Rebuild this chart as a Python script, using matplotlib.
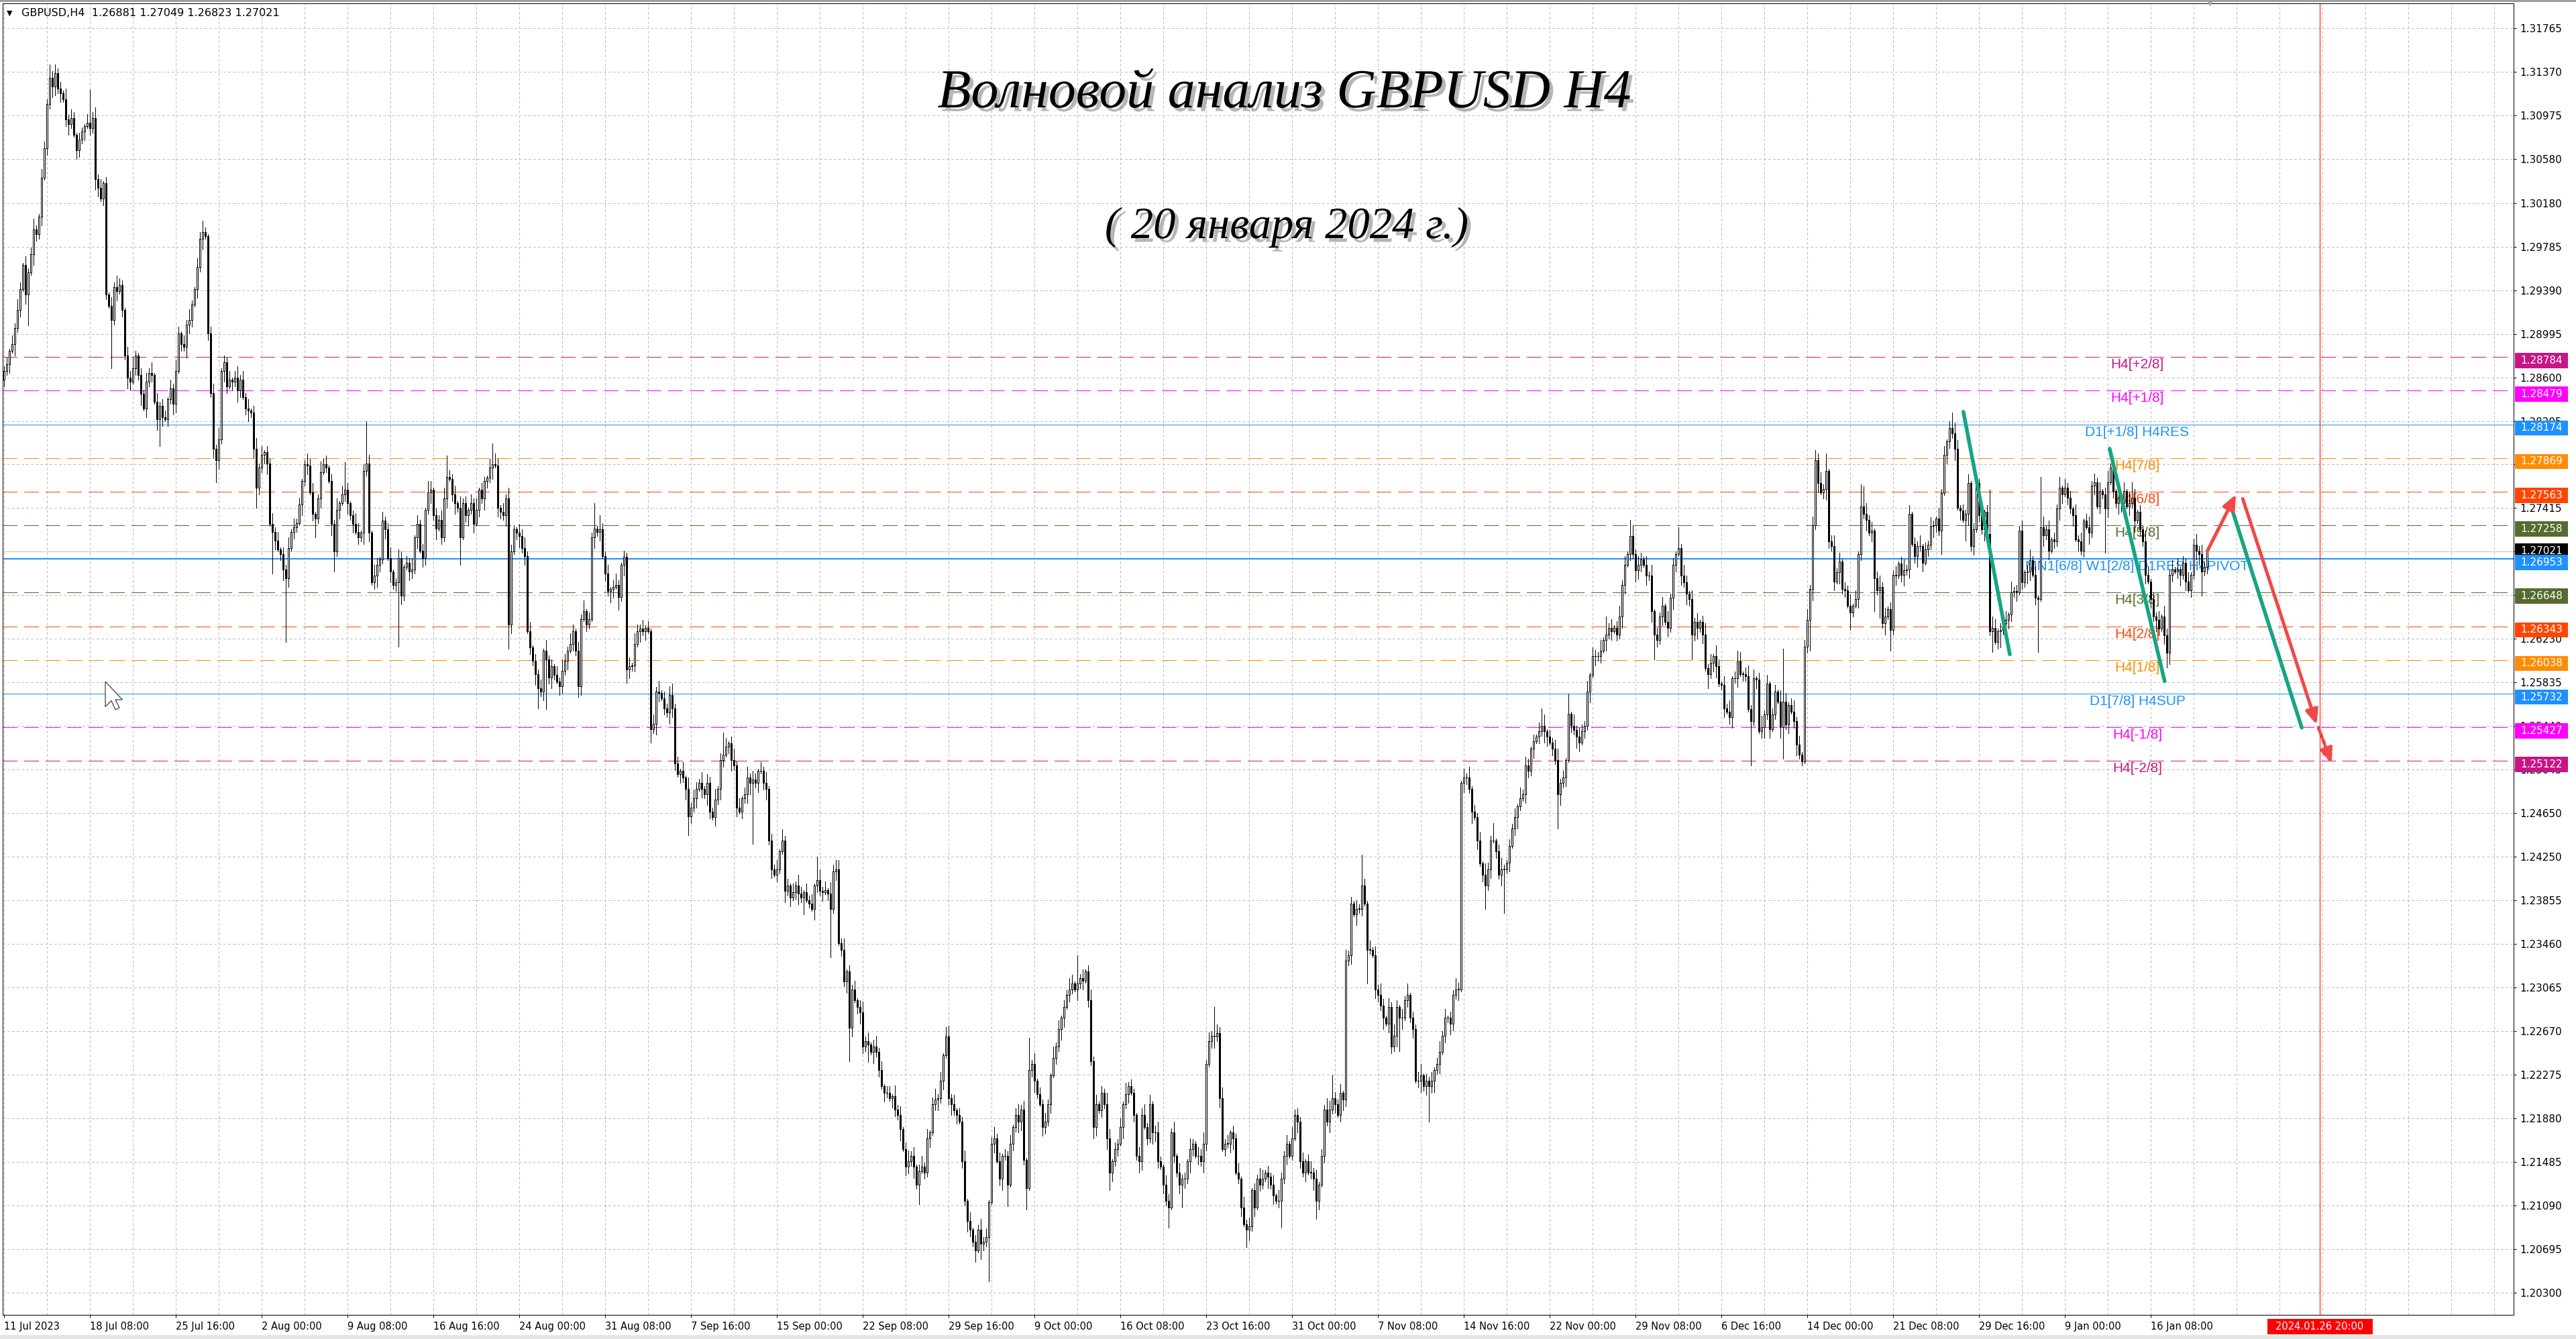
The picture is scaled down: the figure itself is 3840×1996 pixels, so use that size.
import matplotlib
matplotlib.use("Agg")
import matplotlib.pyplot as plt
import matplotlib.patheffects as pe
from matplotlib.patches import Rectangle, Polygon
from matplotlib.transforms import blended_transform_factory

plt.rcParams["lines.scale_dashes"] = False
plt.rcParams["font.family"] = ["DejaVu Sans"]

# canvas and plot box, in pixels of the 3840x1996 screenshot
W, H = 3840, 1996
AX_L, AX_R, AX_T, AX_B = 4, 3747, 5, 1960
Y_LO, Y_HI = 1.20097, 1.31993
X_LO, X_HI = -0.5, 935.25
PX = 0.72  # one pixel, in points

SYMBOL_LINE = "GBPUSD,H4  1.26881 1.27049 1.26823 1.27021"
TITLE = "Волновой анализ GBPUSD H4"
SUBTITLE = "( 20 января 2024 г.)"

# H4 closes in pips above 1.20000, bar 0 = 11 Jul 2023 00:00
FIRST_OPEN = 858
CLOSES = [
    866, 872, 884, 890, 905, 921, 940, 962, 935, 955,
    972, 994, 990, 1006, 1041, 1068, 1108, 1132, 1124, 1136,
    1122, 1118, 1112, 1094, 1090, 1095, 1080, 1066, 1076, 1083,
    1088, 1091, 1086, 1095, 1040, 1032, 1022, 1036, 935, 925,
    912, 942, 938, 944, 921, 880, 860, 856, 868, 880,
    862, 845, 832, 856, 864, 862, 838, 822, 834, 824,
    822, 840, 850, 836, 866, 900, 890, 888, 908, 912,
    926, 940, 960, 986, 992, 988, 900, 846, 795, 785,
    804, 866, 874, 852, 858, 856, 860, 848, 858, 842,
    832, 830, 828, 795, 760, 778, 790, 792, 782, 727,
    720, 712, 704, 700, 686, 678, 705, 720, 724, 728,
    745, 766, 781, 780, 756, 736, 732, 750, 774, 781,
    778, 766, 727, 702, 740, 746, 754, 758, 746, 735,
    727, 720, 715, 719, 775, 782, 719, 674, 680, 690,
    695, 730, 722, 696, 684, 672, 674, 696, 662, 688,
    692, 684, 686, 715, 727, 703, 696, 740, 756, 758,
    735, 723, 731, 715, 750, 770, 768, 754, 746, 742,
    715, 746, 735, 740, 746, 727, 740, 758, 750, 766,
    769, 778, 781, 780, 742, 738, 735, 750, 636, 702,
    722, 719, 716, 705, 698, 630, 615, 603, 591, 578,
    575, 612, 604, 588, 598, 590, 584, 580, 594, 603,
    612, 618, 630, 612, 580, 641, 648, 636, 641, 715,
    723, 720, 722, 698, 682, 666, 668, 670, 672, 661,
    690, 697, 595, 598, 599, 618, 630, 632, 630, 633,
    630, 541, 546, 575, 574, 569, 560, 556, 572, 560,
    510, 500, 503, 497, 487, 462, 470, 478, 487, 492,
    487, 482, 492, 466, 461, 477, 487, 513, 518, 525,
    528, 513, 508, 470, 466, 478, 482, 497, 492, 495,
    492, 503, 503, 492, 487, 440, 414, 409, 414, 430,
    440, 394, 399, 388, 393, 399, 392, 388, 393, 386,
    383, 378, 399, 404, 394, 393, 395, 392, 378, 412,
    414, 347, 341, 312, 321, 270, 305, 295, 289, 284,
    253, 258, 255, 248, 253, 248, 232, 217, 211, 211,
    206, 208, 196, 191, 178, 160, 144, 149, 154, 144,
    128, 140, 144, 139, 170, 175, 201, 205, 206, 222,
    245, 262, 206, 201, 195, 191, 185, 149, 113, 95,
    87, 76, 68, 87, 74, 76, 80, 112, 165, 170,
    149, 133, 154, 154, 128, 165, 180, 191, 185, 196,
    150, 125, 232, 237, 222, 210, 201, 180, 185, 201,
    227, 243, 253, 269, 279, 289, 300, 305, 310, 305,
    310, 315, 313, 321, 295, 240, 180, 201, 195, 211,
    201, 170, 139, 149, 160, 165, 180, 201, 210, 217,
    211, 191, 154, 149, 191, 180, 170, 201, 175, 175,
    149, 144, 128, 113, 107, 175, 154, 139, 128, 133,
    133, 149, 160, 165, 154, 154, 149, 165, 237, 258,
    263, 262, 265, 206, 160, 165, 165, 175, 170, 139,
    133, 107, 92, 87, 90, 123, 107, 133, 128, 133,
    139, 135, 128, 118, 113, 113, 133, 154, 165, 154,
    170, 191, 185, 149, 139, 149, 139, 139, 133, 113,
    128, 154, 196, 185, 196, 206, 201, 191, 211, 205,
    331, 336, 383, 373, 378, 378, 399, 383, 341, 341,
    336, 305, 300, 290, 279, 274, 289, 253, 263, 289,
    279, 279, 295, 300, 279, 269, 222, 222, 227, 217,
    222, 217, 222, 232, 237, 248, 263, 279, 279, 274,
    300, 305, 305, 492, 497, 497, 487, 466, 461, 440,
    419, 409, 399, 414, 440, 440, 430, 409, 414, 414,
    420, 435, 451, 461, 471, 478, 482, 508, 503, 523,
    530, 534, 539, 544, 539, 534, 529, 523, 513, 482,
    492, 497, 513, 555, 544, 540, 534, 529, 539, 544,
    575, 590, 607, 607, 607, 612, 622, 627, 633, 630,
    633, 627, 643, 672, 690, 700, 716, 700, 685, 690,
    695, 690, 680, 680, 648, 627, 622, 643, 653, 638,
    633, 660, 690, 700, 705, 680, 674, 664, 659, 627,
    638, 633, 638, 627, 596, 591, 601, 607, 598, 582,
    581, 560, 557, 552, 587, 587, 603, 591, 591, 589,
    559, 548, 587, 586, 539, 543, 554, 582, 541, 554,
    575, 566, 543, 566, 545, 563, 557, 548, 527, 518,
    512, 616, 640, 668, 726, 785, 764, 756, 759, 775,
    711, 707, 675, 683, 693, 668, 667, 653, 647, 653,
    659, 700, 743, 736, 731, 719, 721, 678, 667, 670,
    637, 643, 650, 631, 681, 680, 691, 681, 685, 686,
    736, 709, 698, 707, 707, 692, 704, 708, 725, 726,
    732, 721, 755, 790, 802, 814, 809, 795, 742, 739,
    731, 736, 764, 707, 722, 764, 735, 722, 738, 718,
    630, 633, 620, 630, 631, 637, 640, 645, 665, 666,
    665, 721, 674, 683, 684, 694, 681, 660, 659, 724,
    717, 722, 703, 713, 711, 741, 760, 754, 760, 751,
    741, 735, 713, 711, 703, 730, 724, 719, 762, 765,
    743, 757, 754, 741, 765, 778, 757, 746, 751, 746,
    757, 743, 746, 751, 730, 738, 722, 711, 681, 675,
    659, 643, 640, 632, 643, 626, 610, 681, 686, 684,
    686, 681, 692, 675, 667, 681, 708, 703, 700, 684,
    688, 702,
]

# wick lengths beyond the body, one digit per bar, in units of 2 pips
WICK_UP = (
    "2314253142" "3521432614" "2315243132" "1423524131" "4253214352" "1324251423"
    "3142531425" "2143521342" "5132413524" "2413524132" "5241325142" "3125341253"
    "4132514231" "2541324153" "1423512431" "3251423154" "1324513241" "5231425132"
    "1425314253" "2143524132" "4152314253" "2531425132" "4153241352" "1324153241"
    "3142513245" "2314152432" "5143251324" "1352413524" "3142513241" "5231425314"
    "2413524153" "1425132413" "5241352413" "3152413524" "1352413524" "1352413251"
    "4132524135" "2413241352" "4132513242" "1524132541" "3241352413" "2541324152"
    "3214352413" "5214325142" "3152143524" "2143524132" "4152413254" "1324153241"
    "5132413524" "1325413241" "5231425314" "1425314253" "1425132451" "3241352413"
    "2531425132" "4153241352" "1324152431" "3142513245" "2314152432" "5143251324"
    "1352413524" "3142513241" "5231425314" "2413524153" "1425132413" "5241352413"
    "3152413524" "1352413524" "1352413251" "4132524135" "2413241352" "4132513242"
    "1524132541" "3241352413" "2541324152" "3241352413" "5241325142" "3152413524"
    "2413524132" "4152413254" "1324153241" "5132413524" "21"
)
WICK_DN = (
    "3241523142" "1532413254" "2413521432" "4132541321" "5241325413" "2514231524"
    "1325413254" "3142513241" "4253142531" "3524132451" "2413524132" "1524135241"
    "2153241352" "4132524135" "3241523142" "1432514325" "2513241352" "4135241325"
    "3251432514" "1352413254" "2413521432" "4132541321" "5241325413" "2514231524"
    "1325413254" "3142513241" "4253142531" "3524132451" "2413524132" "1524135241"
    "2153241352" "4132524135" "3241523142" "1432514325" "2513241352" "4135241325"
    "3251432514" "1352413254" "2413521432" "4132541321" "5241325413" "2514231524"
    "1325413254" "3142513241" "4253142531" "3524132451" "2413524132" "1524135241"
    "2153241352" "4132524135" "3241523142" "1432514325" "2513241352" "4135241325"
    "3251432514" "1352413254" "2413521432" "4132541321" "5241325413" "2514231524"
    "1325413254" "3142513241" "4253142531" "3524132451" "2413524132" "1524135241"
    "2153241352" "4132524135" "3241523142" "1432514325" "2513241352" "4135241325"
    "3251432514" "1352413254" "2413521432" "4132541321" "5241325413" "2514231524"
    "1325413254" "3142513241" "4253142531" "3524132451" "23"
)
# the long wicks, in pips, read one by one
WICK_UP_LONG = {18: 6, 32: 30, 75: 4, 127: 25, 135: 38, 141: 8, 165: 19, 182: 19,
                220: 23, 222: 13, 231: 6, 268: 20, 303: 21, 310: 8, 351: 9, 382: 29,
                400: 26, 451: 26, 481: 5, 495: 21, 506: 28, 555: 16, 573: 16, 583: 18,
                597: 16, 606: 15, 624: 19, 646: 9, 663: 48, 675: 9, 679: 16, 692: 20,
                693: 18, 726: 14, 740: 40, 752: 9, 759: 46, 788: 14, 793: 14, 821: 3}
WICK_DN_LONG = {9: 28, 40: 44, 58: 24, 79: 20, 94: 18, 100: 38, 105: 58, 116: 17,
                123: 18, 147: 58, 170: 25, 188: 22, 199: 18, 202: 45, 229: 12, 232: 12,
                241: 12, 255: 17, 279: 55, 298: 15, 308: 44, 315: 30, 322: 16, 341: 18,
                364: 14, 367: 40, 374: 20, 381: 20, 412: 16, 434: 18, 439: 21, 463: 16,
                476: 24, 489: 16, 508: 31, 520: 30, 531: 32, 552: 21, 559: 40, 579: 31,
                615: 23, 629: 23, 635: 13, 651: 40, 663: 29, 670: 4, 673: 28, 688: 16,
                697: 30, 699: 25, 703: 19, 722: 21, 731: 19, 741: 19, 744: 15, 758: 48,
                783: 40, 806: 13, 819: 22, 821: 6}

DATE_LABELS = ["11 Jul 2023", "18 Jul 08:00", "25 Jul 16:00", "2 Aug 00:00", "9 Aug 08:00",
               "16 Aug 16:00", "24 Aug 00:00", "31 Aug 08:00", "7 Sep 16:00", "15 Sep 00:00",
               "22 Sep 08:00", "29 Sep 16:00", "9 Oct 00:00", "16 Oct 08:00", "23 Oct 16:00",
               "31 Oct 00:00", "7 Nov 08:00", "14 Nov 16:00", "22 Nov 00:00", "29 Nov 08:00",
               "6 Dec 16:00", "14 Dec 00:00", "21 Dec 08:00", "29 Dec 16:00", "9 Jan 00:00",
               "16 Jan 08:00"]
BARS_PER_LABEL = 32

PRICE_TICKS = [1.31765, 1.31370, 1.30975, 1.30580, 1.30180, 1.29785, 1.29390, 1.28995,
               1.28600, 1.28205, 1.27810, 1.27415, 1.27020, 1.26625, 1.26230, 1.25835,
               1.25440, 1.25045, 1.24650, 1.24250, 1.23855, 1.23460, 1.23065, 1.22670,
               1.22275, 1.21880, 1.21485, 1.21090, 1.20695, 1.20300]

# Murrey levels drawn by the indicator
LEVEL_PRICES = [1.28784, 1.28479, 1.28174, 1.27869, 1.27563, 1.27258, 1.26953,
                1.26648, 1.26343, 1.26038, 1.25732, 1.25427, 1.25122]
LEVEL_NAMES = ["H4[+2/8]", "H4[+1/8]", "D1[+1/8] H4RES", "H4[7/8]", "H4[6/8]", "H4[5/8]",
               "MN1[6/8] W1[2/8] D1RES H4PIVOT", "H4[3/8]", "H4[2/8]", "H4[1/8]",
               "D1[7/8] H4SUP", "H4[-1/8]", "H4[-2/8]"]
LEVEL_COLORS = ["#C71585", "#FF00FF", "#1E90FF", "#FF8C00", "#FF4500", "#556B2F", "#1E90FF",
                "#556B2F", "#FF4500", "#FF8C00", "#1E90FF", "#FF00FF", "#C71585"]
LEVEL_SOLID = [False, False, True, False, False, False, True,
               False, False, False, True, False, False]
LABEL_BAR = 795
BID = 1.27021

EVENT_BAR = 863
EVENT_LABEL = "2024.01.26 20:00"

# hand drawn forecast, (bar, price) pairs
GREEN_LINES = [((730.2, 1.28288), (747.5, 1.26088)),
               ((784.7, 1.27954), (805.2, 1.25844)),
               ((830.1, 1.27419), (856.3, 1.25423))]
RED_ARROWS = [((821.1, 1.27025), (831.8, 1.27540)),
              ((834.3, 1.27500), (861.9, 1.25450))]
RED_DASHED = ((862.5, 1.25423), (867.5, 1.25096))
GREEN = "#16A583"
RED = "#F04848"


def pip(p):
    return 1.2 + p / 10000.0


fig = plt.figure(figsize=(W / 100, H / 100), dpi=100)
fig.patch.set_facecolor("white")
ax = fig.add_axes([AX_L / W, 1 - AX_B / H, (AX_R - AX_L) / W, (AX_B - AX_T) / H])
ax.set_xlim(X_LO, X_HI)
ax.set_ylim(Y_LO, Y_HI)
ppx = (Y_HI - Y_LO) / (AX_B - AX_T)   # price per pixel
bpx = (X_HI - X_LO) / (AX_R - AX_L)   # bars per pixel

# grid
ax.hlines(PRICE_TICKS, X_LO, X_HI, colors="#BEBEBE", linewidth=PX,
          linestyles=(0, (2.2, 2.2)), zorder=0.5, antialiased=False)
ax.vlines(range(0, 936, 16), Y_LO, Y_HI, colors="#BEBEBE", linewidth=PX,
          linestyles=(0, (2.2, 2.2)), zorder=0.5, antialiased=False)

# level lines and their names
for price, name, color, solid in zip(LEVEL_PRICES, LEVEL_NAMES, LEVEL_COLORS, LEVEL_SOLID):
    if solid:
        lw = 2 * PX if "PIVOT" in name else PX
        ax.axhline(price, color=color, linewidth=lw, zorder=1.5, antialiased=False)
    else:
        ax.axhline(price, color=color, linewidth=PX, linestyle=(0, (15.8, 7.2)),
                   zorder=1.5, antialiased=False)
    ax.text(LABEL_BAR, price - 2 * ppx, name, color=color, fontsize=15,
            family="Liberation Sans", ha="center", va="top", zorder=2)
ax.axhline(BID, color="#C0C0C0", linewidth=PX, zorder=1.4, antialiased=False)
ax.axvline(EVENT_BAR, color="red", linewidth=PX, zorder=1.6, antialiased=False)

# candles
n = len(CLOSES)
opens = [FIRST_OPEN] + CLOSES[:-1]
wu = [int(ch) * 2 for ch in WICK_UP]
wd = [int(ch) * 2 for ch in WICK_DN]
wx, wlo, whi = [], [], []
bull = ([], [], [])
bear = ([], [], [])
for i in range(n):
    o, c = opens[i], CLOSES[i]
    top, bot = max(o, c), min(o, c)
    hi = top + WICK_UP_LONG.get(i, wu[i] if i < len(wu) else 2)
    lo = bot - WICK_DN_LONG.get(i, wd[i] if i < len(wd) else 2)
    wx.append(i)
    wlo.append(pip(lo))
    whi.append(pip(hi))
    group = bull if c >= o else bear
    group[0].append(i)
    group[1].append(pip(bot))
    group[2].append(max(top - bot, 0.2) / 10000.0)
ax.vlines(wx, wlo, whi, colors="black", linewidth=PX, zorder=3, antialiased=False)
ax.bar(bull[0], bull[2], bottom=bull[1], width=0.55, facecolor="white",
       edgecolor="black", linewidth=PX, zorder=3.2, antialiased=False)
ax.bar(bear[0], bear[2], bottom=bear[1], width=0.55, facecolor="black",
       edgecolor="black", linewidth=PX, zorder=3.2, antialiased=False)

# forecast drawing
for (x0, y0), (x1, y1) in GREEN_LINES:
    ax.plot([x0, x1], [y0, y1], color=GREEN, linewidth=4, solid_capstyle="round", zorder=5)
for (x0, y0), (x1, y1) in RED_ARROWS:
    ax.annotate("", xy=(x1, y1), xytext=(x0, y0), zorder=5,
                arrowprops=dict(arrowstyle="-|>,head_length=1.3,head_width=0.55",
                                mutation_scale=10, color=RED, linewidth=3.6,
                                shrinkA=0, shrinkB=0))
(x0, y0), (x1, y1) = RED_DASHED
ax.annotate("", xy=(x1, y1), xytext=(x0, y0), zorder=5,
            arrowprops=dict(arrowstyle="-|>,head_length=1.3,head_width=0.55",
                            mutation_scale=10, color=RED, linewidth=3.6,
                            linestyle=(0, (4, 3)), shrinkA=0, shrinkB=0))

# axes look
for s in ax.spines.values():
    s.set_color("black")
    s.set_linewidth(PX)
ax.yaxis.tick_right()
ax.set_yticks(PRICE_TICKS, [f"{v:.5f}" for v in PRICE_TICKS])
ax.tick_params(axis="y", length=3, width=PX, pad=4, labelsize=11, direction="out")
ax.set_xticks([k * BARS_PER_LABEL for k in range(len(DATE_LABELS))], DATE_LABELS, ha="left")
ax.tick_params(axis="x", length=3, width=PX, pad=4, labelsize=10.5, direction="out")

# price boxes on the right scale
tb = blended_transform_factory(ax.transAxes, ax.transData)
bx0 = (3749 - AX_L) / (AX_R - AX_L)
bw = 79 / (AX_R - AX_L)
tx = (3757 - AX_L) / (AX_R - AX_L)
boxes = [(p, c, 6, 16.5) for p, c in zip(LEVEL_PRICES, LEVEL_COLORS)]
boxes.append((BID, "black", 12, 10))
boxes.sort(key=lambda b: -b[0])
for price, color, up, down in boxes:
    ax.add_patch(Rectangle((bx0, price - down * ppx), bw, (up + down) * ppx, transform=tb,
                           facecolor=color, edgecolor="none", clip_on=False, zorder=6))
    ax.text(tx, price + (up - down) / 2 * ppx, f"{price:.5f}", transform=tb, color="white",
            fontsize=11, ha="left", va="center", clip_on=False, zorder=7)

# red time box under the event line
tt = blended_transform_factory(ax.transData, ax.transAxes)
ah = AX_B - AX_T
ax.add_patch(Rectangle((EVENT_BAR - 78.5 * bpx, -29 / ah), 157 * bpx, 23 / ah, transform=tt,
                       facecolor="red", edgecolor="none", clip_on=False, zorder=6))
ax.text(EVENT_BAR, -17.5 / ah, EVENT_LABEL, transform=tt, color="white", fontsize=10.5,
        ha="center", va="center", clip_on=False, zorder=7)

# chart shift marker
ax.plot([n], [Y_HI + 2 * ppx], marker="v", markersize=7, color="#A8A8A8",
        clip_on=False, zorder=6)

# header and titles
fig.text(10 / W, 1 - 20 / H, "▼", fontsize=8, va="center", ha="left")
fig.text(32 / W, 1 - 20 / H, SYMBOL_LINE, fontsize=11.5, va="center", ha="left")
shadow = [pe.SimplePatchShadow(offset=(4, -4), shadow_rgbFace="#7A7A7A", alpha=0.55), pe.Normal()]
fig.text(1915 / W, 1 - 160 / H, TITLE, fontsize=59, family="Liberation Serif", style="italic",
         ha="center", va="baseline", path_effects=shadow)
fig.text(1918 / W, 1 - 355 / H, SUBTITLE, fontsize=48, family="Liberation Serif", style="italic",
         ha="center", va="baseline", path_effects=shadow)

# window edges and mouse pointer
fig.patches.append(Rectangle((0, 1 - 3 / H), 1, 3 / H, transform=fig.transFigure,
                             facecolor="#A0A0A0", edgecolor="none"))
fig.patches.append(Rectangle((0, 0), 1, 6 / H, transform=fig.transFigure,
                             facecolor="#E6E6E6", edgecolor="none"))
cursor = [(0, 0), (0, 25), (6, 19), (10, 28), (14, 26), (10, 18), (17, 18)]
fig.patches.append(Polygon([((157 + 1.5 * u) / W, 1 - (1016 + 1.5 * v) / H) for u, v in cursor],
                           closed=True, transform=fig.transFigure, facecolor="white",
                           edgecolor="#404040", linewidth=0.9))

fig.savefig("out.png", dpi=100)
